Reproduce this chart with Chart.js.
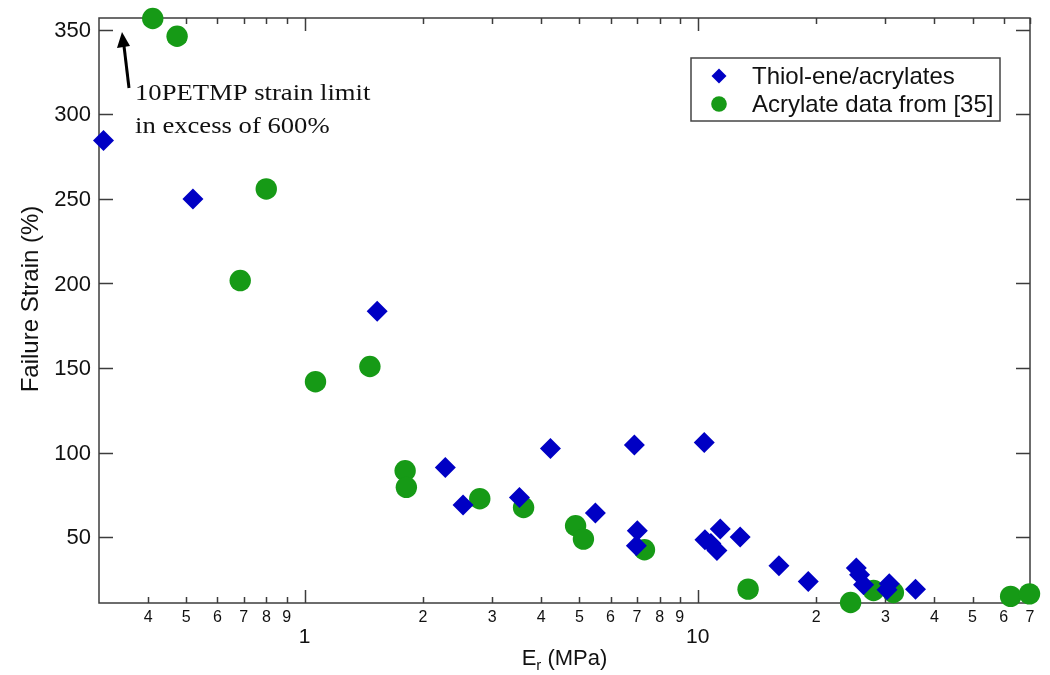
<!DOCTYPE html>
<html>
<head>
<meta charset="utf-8">
<script src="https://cdn.jsdelivr.net/npm/chart.js@4.4.0/dist/chart.umd.min.js"></script>
<style>
  body { margin: 0; background: #fff; }
  #wrap { width: 1050px; height: 675px; }
</style>
</head>
<body>
<div id="wrap"><canvas id="strainChart" width="1050" height="675"></canvas></div>
<script>
// Er (MPa) and failure strain (%)
const thiolEr = [0.308, 0.52, 1.53, 2.28, 2.53, 3.52, 4.22, 5.49, 6.9, 7.02, 6.98, 10.39, 10.43, 10.8, 11.19, 11.41, 12.82, 16.09, 19.1, 25.31, 25.8, 26.41, 30.3, 30.7, 35.8];
const thiolStrain = [284.5, 250, 183.5, 91.2, 68.9, 73.4, 102.4, 64.2, 104.4, 53.7, 44.9, 106, 48.4, 46.2, 42.1, 54.7, 50, 33, 23.7, 31.7, 27.7, 21.8, 18.8, 22.4, 19.2];
const acrylEr = [0.411, 0.474, 0.799, 0.686, 1.066, 1.466, 1.802, 1.815, 2.79, 3.606, 4.89, 5.12, 7.32, 13.43, 24.48, 28, 31.45, 62.5, 69.8];
const acrylStrain = [356.7, 346.2, 255.9, 201.7, 141.9, 150.9, 89.2, 79.4, 72.7, 67.5, 56.7, 48.8, 42.5, 19.2, 11.3, 18.4, 17.2, 14.9, 16.4];

const seriesNames = ["Thiol-ene/acrylates", "Acrylate data from [35]"];
const xMinorTicks = [0.4, 0.5, 0.6, 0.7, 0.8, 0.9, 2, 3, 4, 5, 6, 7, 8, 9, 20, 30, 40, 50, 60, 70];
const xMinorLabels = ["4", "5", "6", "7", "8", "9", "2", "3", "4", "5", "6", "7", "8", "9", "2", "3", "4", "5", "6", "7"];
const xMajorTicks = [1, 10];
const xMajorLabels = ["1", "10"];
const yTicks = [50, 100, 150, 200, 250, 300, 350];

const BLUE = "#0000c4";
const GREEN = "#169a16";
const AXIS = "#3c3c3c";
const SANS = "'Liberation Sans', Arial, sans-serif";

function pairs(xs, ys) {
  return xs.map((v, i) => ({ x: v, y: ys[i] }));
}

function diamond(ctx, x, y, r) {
  ctx.beginPath();
  ctx.moveTo(x - r, y);
  ctx.lineTo(x, y - r);
  ctx.lineTo(x + r, y);
  ctx.lineTo(x, y + r);
  ctx.closePath();
  ctx.fill();
}

const axesPlugin = {
  id: "axesPlugin",
  beforeDatasetsDraw(chart) {
    const { ctx, chartArea: a, scales: { x, y } } = chart;
    ctx.save();
    ctx.strokeStyle = AXIS;
    ctx.lineWidth = 1.5;
    ctx.strokeRect(a.left, a.top, a.right - a.left, a.bottom - a.top);
    ctx.beginPath();
    for (const v of xMinorTicks) {
      const px = Math.round(x.getPixelForValue(v)) + 0.5;
      ctx.moveTo(px, a.bottom); ctx.lineTo(px, a.bottom - 6);
      ctx.moveTo(px, a.top); ctx.lineTo(px, a.top + 6);
    }
    for (const v of xMajorTicks) {
      const px = Math.round(x.getPixelForValue(v)) + 0.5;
      ctx.moveTo(px, a.bottom); ctx.lineTo(px, a.bottom - 13);
      ctx.moveTo(px, a.top); ctx.lineTo(px, a.top + 13);
    }
    for (const v of yTicks) {
      const py = Math.round(y.getPixelForValue(v)) + 0.5;
      ctx.moveTo(a.left, py); ctx.lineTo(a.left + 14, py);
      ctx.moveTo(a.right, py); ctx.lineTo(a.right - 14, py);
    }
    ctx.stroke();
    ctx.restore();
  },
  afterDraw(chart) {
    const { ctx, chartArea: a, scales: { x, y } } = chart;
    ctx.save();
    ctx.fillStyle = "#111";

    // y tick labels
    ctx.font = "22px " + SANS;
    ctx.textAlign = "right";
    ctx.textBaseline = "middle";
    yTicks.forEach(v => ctx.fillText(String(v), a.left - 8, y.getPixelForValue(v) + 1));

    // x tick labels
    ctx.textAlign = "center";
    ctx.font = "16px " + SANS;
    xMinorTicks.forEach((v, i) => ctx.fillText(xMinorLabels[i], x.getPixelForValue(v), a.bottom + 15));
    ctx.font = "21px " + SANS;
    xMajorTicks.forEach((v, i) => ctx.fillText(xMajorLabels[i], x.getPixelForValue(v), a.bottom + 34));

    // x title with subscript
    const cx = (a.left + a.right) / 2;
    ctx.textBaseline = "alphabetic";
    ctx.textAlign = "left";
    ctx.font = "22px " + SANS;
    const wE = ctx.measureText("E").width;
    const wRest = ctx.measureText(" (MPa)").width;
    ctx.font = "15px " + SANS;
    const wr = ctx.measureText("r").width;
    let tx = cx - (wE + wr + wRest) / 2;
    ctx.font = "22px " + SANS;
    ctx.fillText("E", tx, 665);
    ctx.font = "15px " + SANS;
    ctx.fillText("r", tx + wE, 670);
    ctx.font = "22px " + SANS;
    ctx.fillText(" (MPa)", tx + wE + wr, 665);

    // y title
    ctx.save();
    ctx.translate(38, 299);
    ctx.rotate(-Math.PI / 2);
    ctx.textAlign = "center";
    ctx.font = "24px " + SANS;
    ctx.fillText("Failure Strain (%)", 0, 0);
    ctx.restore();

    // annotation
    ctx.strokeStyle = "#000";
    ctx.fillStyle = "#000";
    ctx.lineWidth = 3;
    ctx.beginPath();
    ctx.moveTo(129, 88);
    ctx.lineTo(124, 46);
    ctx.stroke();
    ctx.beginPath();
    ctx.moveTo(122, 32);
    ctx.lineTo(117, 48);
    ctx.lineTo(130, 46);
    ctx.closePath();
    ctx.fill();
    ctx.save();
    ctx.translate(135, 0);
    ctx.scale(1.11, 1);
    ctx.font = "24px 'Liberation Serif', 'Times New Roman', serif";
    ctx.fillStyle = "#111";
    ctx.fillText("10PETMP strain limit", 0, 100);
    ctx.fillText("in excess of 600%", 0, 133);
    ctx.restore();

    // legend
    ctx.fillStyle = "#fff";
    ctx.fillRect(691, 58, 309, 63);
    ctx.strokeStyle = "#444";
    ctx.lineWidth = 1.5;
    ctx.strokeRect(691, 58, 309, 63);
    ctx.font = "24px " + SANS;
    ctx.textBaseline = "middle";
    ctx.fillStyle = BLUE;
    diamond(ctx, 719, 76, 7.5);
    ctx.fillStyle = GREEN;
    ctx.beginPath();
    ctx.arc(719, 104, 7.8, 0, Math.PI * 2);
    ctx.fill();
    ctx.fillStyle = "#111";
    ctx.fillText(seriesNames[0], 752, 77);
    ctx.fillText(seriesNames[1], 752, 105);
    ctx.restore();
  }
};

const ctx = document.getElementById("strainChart").getContext("2d");

const chart = new Chart(ctx, {
  type: "scatter",
  data: {
    datasets: [
      {
        label: seriesNames[0],
        data: pairs(thiolEr, thiolStrain),
        pointStyle: "rectRot",
        pointRadius: 10.5,
        backgroundColor: BLUE,
        borderColor: BLUE,
        borderWidth: 0,
        clip: false,
      },
      {
        label: seriesNames[1],
        data: pairs(acrylEr, acrylStrain),
        pointStyle: "circle",
        pointRadius: 10.7,
        backgroundColor: GREEN,
        borderColor: GREEN,
        borderWidth: 0,
        clip: false,
      },
    ],
  },
  options: {
    responsive: false,
    animation: false,
    devicePixelRatio: 1,
    layout: {
      padding: { left: 99, top: 18, right: 20, bottom: 72 },
    },
    plugins: {
      legend: { display: false },
      tooltip: { enabled: false },
    },
    scales: {
      x: {
        type: "logarithmic",
        min: 0.307,
        max: 70,
        display: false,
      },
      y: {
        min: 11,
        max: 357,
        display: false,
      },
    },
  },
  plugins: [axesPlugin],
});
</script>
</body>
</html>
